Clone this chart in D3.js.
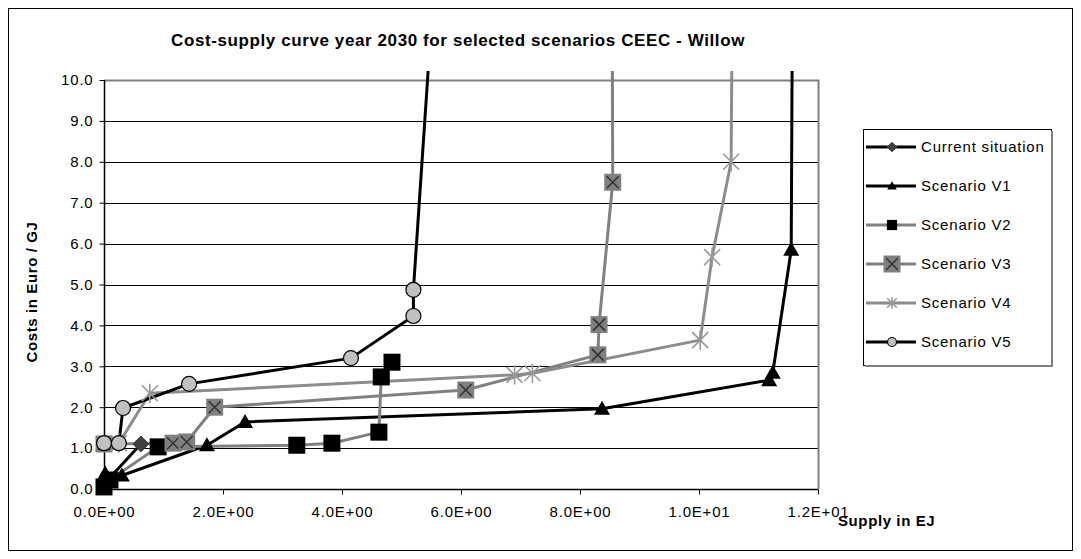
<!DOCTYPE html>
<html>
<head>
<meta charset="utf-8">
<script src="https://cdn.jsdelivr.net/npm/d3@7"></script>
<style>
  body { margin: 0; background: #fff; }
  svg text { font-family: Arial, "Liberation Sans", sans-serif; }
</style>
</head>
<body>
<div id="chart"></div>
<script>
// Series values (supply in EJ, costs in Euro / GJ)
var currentX = [0.05, 0.62];
var currentY = [0.2, 1.1];

var v1X = [0.02, 0.3, 1.73, 2.37, 8.37, 11.18, 11.24, 11.55, 11.57];
var v1Y = [0.38, 0.33, 1.07, 1.64, 1.96, 2.66, 2.84, 5.85, 12];

var v2X = [0.0, 0.1, 0.91, 3.24, 3.83, 4.62, 4.66, 4.84];
var v2Y = [0.05, 0.22, 1.03, 1.07, 1.12, 1.39, 2.74, 3.1];

var v3X = [0.0, 1.16, 1.39, 1.86, 6.08, 8.3, 8.32, 8.55, 8.54];
var v3Y = [1.1, 1.12, 1.15, 2.0, 2.42, 3.28, 4.02, 7.5, 12];

var v4X = [0.25, 0.77, 6.9, 7.2, 10.02, 10.22, 10.54, 10.56];
var v4Y = [1.12, 2.34, 2.79, 2.83, 3.64, 5.67, 8.0, 12];

var v5X = [0.0, 0.25, 0.32, 1.43, 4.15, 5.2, 5.2, 5.53];
var v5Y = [1.12, 1.12, 1.98, 2.57, 3.2, 4.23, 4.87, 12];

var seriesNames = ['Current situation', 'Scenario V1', 'Scenario V2', 'Scenario V3', 'Scenario V4', 'Scenario V5'];
var yTicks = [0, 1, 2, 3, 4, 5, 6, 7, 8, 9, 10];
var xTicks = [0, 2, 4, 6, 8, 10, 12];

// Build the series table for drawing
function zip(xs, ys) {
  return xs.map(function (x, i) { return { x: x, y: ys[i] }; });
}
var series = [
  { name: seriesNames[0], pts: zip(currentX, currentY), line: '#000', marker: 'diamond', fill: '#404040', stroke: '#404040' },
  { name: seriesNames[1], pts: zip(v1X, v1Y), line: '#000', marker: 'triangle', fill: '#000', stroke: '#000' },
  { name: seriesNames[2], pts: zip(v2X, v2Y), line: '#808080', marker: 'square', fill: '#000', stroke: '#000' },
  { name: seriesNames[3], pts: zip(v3X, v3Y), line: '#808080', marker: 'xsquare', fill: '#808080', stroke: '#333', legendBig: true },
  { name: seriesNames[4], pts: zip(v4X, v4Y), line: '#8c8c8c', marker: 'star', fill: 'none', stroke: '#999' },
  { name: seriesNames[5], pts: zip(v5X, v5Y), line: '#000', marker: 'circle', fill: '#c0c0c0', stroke: '#000' }
];

var W = 1081, H = 559;
var plot = { left: 104, right: 818, top: 80, bottom: 489 };

var svg = d3.select('#chart').append('svg')
  .attr('width', W)
  .attr('height', H);

// chart area border
svg.append('rect')
  .attr('x', 8.5).attr('y', 8.5)
  .attr('width', 1064).attr('height', 542)
  .attr('fill', '#fff').attr('stroke', '#000').attr('stroke-width', 1);

var x = d3.scaleLinear().domain([0, 12]).range([plot.left, plot.right]);
var y = d3.scaleLinear().domain([0, 10]).range([plot.bottom, plot.top]);

// gridlines
svg.append('g')
  .selectAll('line')
  .data(yTicks.slice(1, -1))
  .enter().append('line')
  .attr('x1', plot.left).attr('x2', plot.right)
  .attr('y1', function (d) { return Math.round(y(d)) + 0.5; })
  .attr('y2', function (d) { return Math.round(y(d)) + 0.5; })
  .attr('stroke', '#000').attr('stroke-width', 1);

// top and right plot border in gray
svg.append('path')
  .attr('d', 'M' + plot.left + ',' + (plot.top + 0.5) + 'H' + (plot.right + 0.5) + 'V' + plot.bottom)
  .attr('fill', 'none').attr('stroke', '#808080').attr('stroke-width', 2);

// axes
var yAxis = svg.append('g')
  .attr('transform', 'translate(' + (plot.left + 0.5) + ',0)')
  .call(d3.axisLeft(y).tickValues(yTicks).tickFormat(d3.format('.1f')).tickSize(5).tickPadding(6));

function fmtE(v) {
  var parts = v.toExponential(1).split('e');
  var e = parts[1];
  return parts[0] + 'E' + e[0] + e.slice(1).padStart(2, '0');
}
var xAxis = svg.append('g')
  .attr('transform', 'translate(0,' + (plot.bottom + 0.5) + ')')
  .call(d3.axisBottom(x).tickValues(xTicks).tickFormat(fmtE).tickSize(5).tickPadding(12));

[yAxis, xAxis].forEach(function (ax) {
  ax.select('.domain').attr('stroke', '#000').attr('stroke-width', 1.5);
  ax.selectAll('.tick line').attr('stroke', '#000');
  ax.selectAll('.tick text').attr('font-size', 15).attr('fill', '#000')
    .attr('letter-spacing', 0.8)
    .attr('font-family', 'Arial, "Liberation Sans", sans-serif');
});
yAxis.select('.domain').attr('d', 'M0,' + plot.bottom + 'V' + plot.top);
xAxis.select('.domain').attr('d', 'M' + plot.left + ',0H' + plot.right);

// lines, clipped a little above the plot top
svg.append('clipPath').attr('id', 'clip')
  .append('rect')
  .attr('x', plot.left - 20).attr('y', 71)
  .attr('width', plot.right - plot.left + 40).attr('height', plot.bottom - 71 + 30);

var line = d3.line()
  .x(function (d) { return x(d.x); })
  .y(function (d) { return y(d.y); });

var gLines = svg.append('g').attr('clip-path', 'url(#clip)');

series.forEach(function (s) {
  gLines.append('path')
    .datum(s.pts)
    .attr('d', line)
    .attr('fill', 'none')
    .attr('stroke', s.line)
    .attr('stroke-width', 3)
    .attr('stroke-linejoin', 'round');
});

// marker drawing
function drawMarker(g, s, cx, cy, k) {
  if (s.marker === 'diamond') {
    var r = 8 * k;
    g.append('path')
      .attr('d', 'M' + cx + ',' + (cy - r) + 'L' + (cx + r) + ',' + cy + 'L' + cx + ',' + (cy + r) + 'L' + (cx - r) + ',' + cy + 'Z')
      .attr('fill', s.fill).attr('stroke', s.stroke);
  } else if (s.marker === 'triangle') {
    var t = 8 * k;
    g.append('path')
      .attr('d', 'M' + cx + ',' + (cy - t) + 'L' + (cx + t) + ',' + (cy + t * 0.75) + 'L' + (cx - t) + ',' + (cy + t * 0.75) + 'Z')
      .attr('fill', s.fill);
  } else if (s.marker === 'square') {
    var h = 8.5 * k;
    g.append('rect')
      .attr('x', cx - h).attr('y', cy - h).attr('width', 2 * h).attr('height', 2 * h)
      .attr('fill', s.fill);
  } else if (s.marker === 'xsquare') {
    var q = 8.5 * k, c = 6 * k;
    g.append('rect')
      .attr('x', cx - q).attr('y', cy - q).attr('width', 2 * q).attr('height', 2 * q)
      .attr('fill', s.fill);
    g.append('path')
      .attr('d', 'M' + (cx - c) + ',' + (cy - c) + 'L' + (cx + c) + ',' + (cy + c) + 'M' + (cx + c) + ',' + (cy - c) + 'L' + (cx - c) + ',' + (cy + c))
      .attr('stroke', s.stroke).attr('stroke-width', 1.6);
  } else if (s.marker === 'star') {
    var a = 8 * k;
    g.append('path')
      .attr('d', 'M' + (cx - a) + ',' + (cy - a) + 'L' + (cx + a) + ',' + (cy + a) +
        'M' + (cx + a) + ',' + (cy - a) + 'L' + (cx - a) + ',' + (cy + a) +
        'M' + cx + ',' + (cy - a * 1.2) + 'L' + cx + ',' + (cy + a * 1.2))
      .attr('stroke', s.stroke).attr('stroke-width', 1.6);
  } else if (s.marker === 'circle') {
    g.append('circle')
      .attr('cx', cx).attr('cy', cy).attr('r', 7.5 * k)
      .attr('fill', s.fill).attr('stroke', s.stroke).attr('stroke-width', 1.2);
  }
}

var gMarks = svg.append('g');
series.forEach(function (s) {
  s.pts.forEach(function (p) {
    if (p.y > 10) return;
    drawMarker(gMarks, s, x(p.x), y(p.y), 1);
  });
});

// title and axis titles
svg.append('text')
  .attr('x', 458).attr('y', 46)
  .attr('text-anchor', 'middle')
  .attr('font-size', 17).attr('font-weight', 'bold')
  .attr('letter-spacing', 0.6)
  .text('Cost-supply curve year 2030 for selected scenarios CEEC - Willow');

svg.append('text')
  .attr('transform', 'translate(37,292) rotate(-90)')
  .attr('text-anchor', 'middle')
  .attr('font-size', 15).attr('font-weight', 'bold')
  .attr('letter-spacing', 0.6)
  .text('Costs in Euro / GJ');

svg.append('text')
  .attr('x', 838).attr('y', 526)
  .attr('font-size', 15).attr('font-weight', 'bold')
  .attr('letter-spacing', 0.6)
  .text('Supply in EJ');

// legend
var lg = svg.append('g');
lg.append('rect')
  .attr('x', 863.5).attr('y', 129.5).attr('width', 188).attr('height', 236)
  .attr('fill', '#fff').attr('stroke', '#000');
lg.append('path')
  .attr('d', 'M1052,131V366H865')
  .attr('fill', 'none').attr('stroke', '#808080').attr('stroke-width', 2);

series.forEach(function (s, i) {
  var ly = 147 + i * 39;
  lg.append('line')
    .attr('x1', 866).attr('x2', 916).attr('y1', ly).attr('y2', ly)
    .attr('stroke', s.line).attr('stroke-width', 3);
  drawMarker(lg, s, 892, ly, s.legendBig ? 1 : 0.6);
  lg.append('text')
    .attr('x', 921).attr('y', ly + 5)
    .attr('font-size', 15)
    .attr('letter-spacing', 0.8)
    .text(s.name);
});
</script>
</body>
</html>
